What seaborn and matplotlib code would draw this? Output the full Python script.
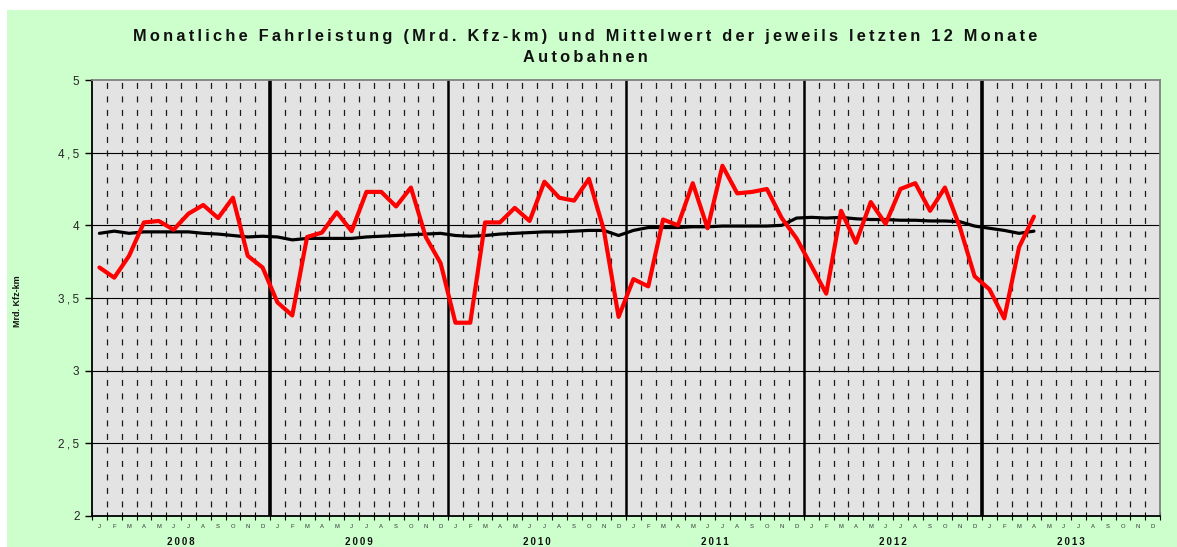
import numpy as np
import pandas as pd
import matplotlib
matplotlib.use("Agg")
import matplotlib.pyplot as plt
import matplotlib.transforms as mtransforms
from matplotlib.patches import Rectangle
import seaborn as sns

# ---------------- data ----------------
years = [2008, 2009, 2010, 2011, 2012, 2013]
month_letters = ["J", "F", "M", "A", "M", "J", "J", "A", "S", "O", "N", "D"]

fahrleistung = [
    3.71, 3.64, 3.79, 4.02, 4.03, 3.97, 4.08, 4.14, 4.05, 4.19, 3.79, 3.71,
    3.47, 3.38, 3.92, 3.95, 4.09, 3.96, 4.23, 4.23, 4.13, 4.26, 3.92, 3.74,
    3.33, 3.33, 4.02, 4.02, 4.12, 4.03, 4.30, 4.19, 4.17, 4.32, 3.97, 3.37,
    3.63, 3.58, 4.04, 4.00, 4.29, 3.98, 4.41, 4.22, 4.23, 4.25, 4.05, 3.91,
    3.72, 3.53, 4.10, 3.88, 4.16, 4.01, 4.25, 4.29, 4.10, 4.26, 3.99, 3.65,
    3.56, 3.36, 3.85, 4.06,
]
mittelwert = [
    3.945, 3.96, 3.945, 3.955, 3.955, 3.955, 3.955, 3.945, 3.94, 3.93, 3.92, 3.925,
    3.92, 3.90, 3.91, 3.91, 3.91, 3.91, 3.92, 3.925, 3.93, 3.935, 3.94, 3.945,
    3.93, 3.925, 3.93, 3.94, 3.945, 3.95, 3.955, 3.955, 3.96, 3.965, 3.965, 3.93,
    3.965, 3.985, 3.985, 3.985, 3.99, 3.99, 3.995, 3.995, 3.995, 3.995, 4.00, 4.05,
    4.055, 4.05, 4.055, 4.045, 4.04, 4.04, 4.035, 4.035, 4.03, 4.03, 4.025, 3.995,
    3.98, 3.965, 3.945, 3.96,
]
y_ticks = [2, 2.5, 3, 3.5, 4, 4.5, 5]
y_tick_labels = ["2", "2,5", "3", "3,5", "4", "4,5", "5"]
title_line1 = "Monatliche Fahrleistung (Mrd. Kfz-km) und Mittelwert der jeweils letzten 12 Monate"
title_line2 = "Autobahnen"
y_label = "Mrd. Kfz-km"

TS = "\u2009"


def spaced(s):
    out = []
    for w in s.split(" "):
        out.append(TS.join(list(w)))
    return (TS + " " + TS).join(out)


# ---------------- figure ----------------
sns.set_theme(style="white")
plt.rcParams["font.family"] = ["Liberation Sans", "DejaVu Sans"]

W, H = 1177, 547
fig = plt.figure(figsize=(W / 100, H / 100), dpi=100)
fig.patch.set_facecolor("white")
fig.patches.append(Rectangle((7 / W, 0), 1 - 7 / W, (H - 10) / H,
                             transform=fig.transFigure, facecolor="#CCFFCC",
                             edgecolor="none", zorder=-10))

L, R, T, B = 92, 1160, 80, 516
ax = fig.add_axes([L / W, (H - B) / H, (R - L) / W, (B - T) / H])
ax.set_facecolor("#E3E3E3")

n_months = 12 * len(years)
n = len(fahrleistung)
df = pd.DataFrame({
    "idx": np.arange(n) + 0.5,
    "Fahrleistung": fahrleistung,
    "Mittelwert": mittelwert,
})

# grid
for y in y_ticks[1:-1]:
    ax.axhline(y, color="black", lw=0.8, zorder=1)
month_bounds = [k for k in range(1, n_months) if k % 12 != 0]
ax.vlines(month_bounds, 5, 2, colors="#1a1a1a", lw=0.9,
          linestyles=[(8.86, (4.8, 6.0))], zorder=1)
for k in range(12, n_months, 12):
    lw = 2.6 if k in (12, 60) else 1.8
    ax.axvline(k, color="black", lw=lw, zorder=2)

sns.lineplot(data=df, x="idx", y="Mittelwert", color="black", lw=2.3, ax=ax, zorder=3)
sns.lineplot(data=df, x="idx", y="Fahrleistung", color="red", lw=3.0, ax=ax, zorder=4)

ax.set_xlim(0, n_months)
ax.set_ylim(2, 5)
ax.set_xlabel("")
ax.set_ylabel("")

ax.set_yticks(y_ticks)
ax.set_yticklabels([spaced(t) for t in y_tick_labels])
ax.tick_params(axis="y", direction="out", length=5, width=1, color="black",
               labelsize=8.5, pad=4, left=True)

centers = np.arange(n_months) + 0.5
ax.set_xticks(centers)
ax.set_xticklabels(month_letters * len(years))
ax.tick_params(axis="x", which="major", length=0, labelsize=4.2, pad=6,
               labelcolor="#333333")
ax.set_xticks(np.arange(0, n_months + 1), minor=True)
ax.tick_params(axis="x", which="minor", direction="inout", length=6, width=0.8,
               color="black", bottom=True)

trans = mtransforms.blended_transform_factory(ax.transData, ax.transAxes)
for i, yr in enumerate(years):
    ax.text(12 * i + 6, (B - 542) / (B - T), spaced(str(yr)), transform=trans,
            ha="center", va="center", fontsize=7, fontweight="bold", color="#111111")

for side in ["left", "bottom"]:
    ax.spines[side].set_color("black")
    ax.spines[side].set_linewidth(1.3)
for side in ["top", "right"]:
    ax.spines[side].set_color("#808080")
    ax.spines[side].set_linewidth(1.3)

fig.text(0.497, 1 - 37 / H, spaced(title_line1), ha="center", va="center",
         fontsize=11.8, fontweight="bold", color="#111111")
fig.text(0.497, 1 - 57 / H, spaced(title_line2), ha="center", va="center",
         fontsize=11.8, fontweight="bold", color="#111111")
fig.text(17 / W, 1 - 301 / H, y_label, rotation=90, ha="center", va="center",
         fontsize=6.5, fontweight="bold", color="#111111")

fig.savefig("out.png", dpi=100, facecolor=fig.get_facecolor())
